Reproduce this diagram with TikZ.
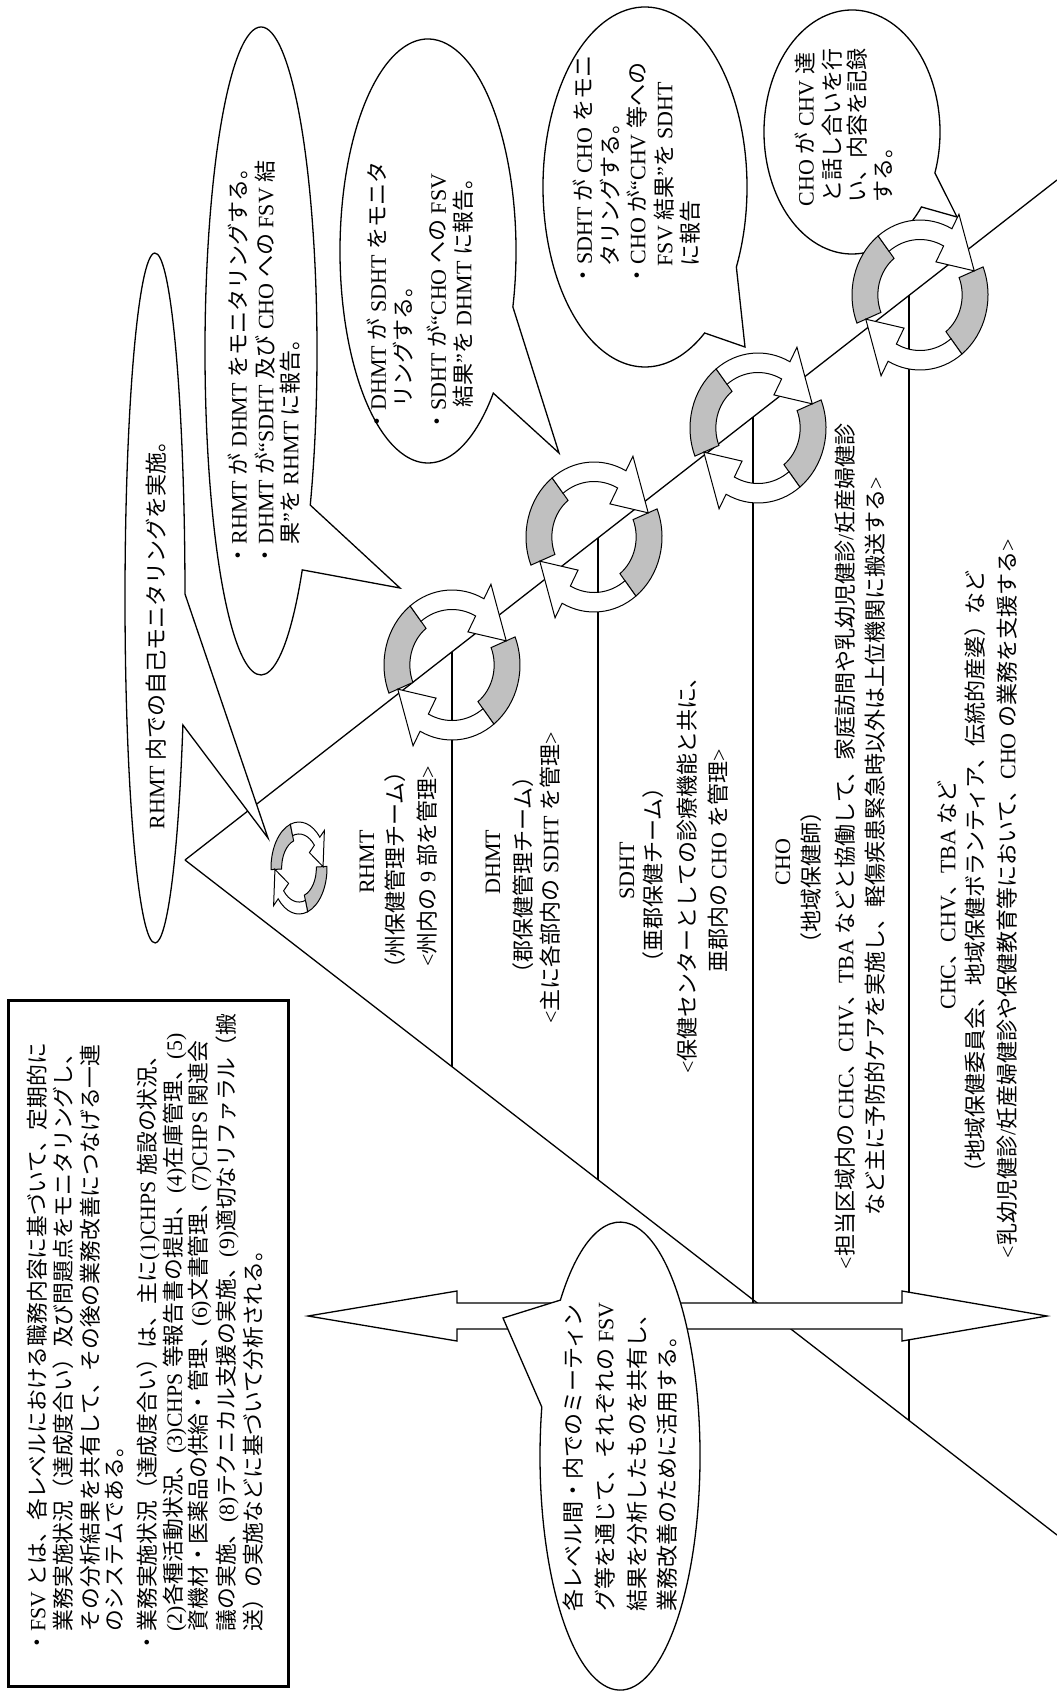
\documentclass[tikz,border=0pt]{standalone}
\usepackage{fontspec}
\setmainfont{Liberation Serif}
\newfontfamily\jfont{Noto Sans CJK JP}
\usetikzlibrary{calc}
\definecolor{cgray}{RGB}{192,192,192}
\XeTeXinterchartokenstate=1
\chardef\jclass=7
\newcount\jcc
\def\setjrange#1#2{\jcc=#1\relax\loop\XeTeXcharclass\jcc=\jclass\relax\ifnum\jcc<#2\relax\advance\jcc by 1\relax\repeat}
\setjrange{"3000}{"30FF}
\setjrange{"4E00}{"9FFF}
\setjrange{"FF00}{"FFEF}
\XeTeXinterchartoks 0 \jclass = {\jfont}
\XeTeXinterchartoks 4095 \jclass = {\jfont}
\XeTeXinterchartoks \jclass 0 = {\rmfamily}
\XeTeXinterchartoks \jclass 4095 = {\rmfamily}
\tikzset{
  txt/.style={rotate=90, inner sep=0pt, font=\fontsize{22}{26}\selectfont},
  ln/.style={txt, anchor=west},
  ctr/.style={txt, anchor=center},
  boxtxt/.style={txt, anchor=west, font=\fontsize{21.8}{26}\selectfont},
  callout/.style={line width=1.3pt, fill=white},
  cyc/.pic={
    \foreach \r in {0,180}{
      \filldraw[rotate=\r, fill=cgray, line width=1pt] (202:1) arc[start angle=202,end angle=128,radius=1] -- (128:0.62) arc[start angle=128,end angle=202,radius=0.62] -- cycle;
    }
    \foreach \r in {0,180}{
      \filldraw[rotate=\r, fill=white, line width=1pt] (128:1) arc[start angle=128,end angle=62,radius=1] -- (62:1.22) -- (22:0.86) -- (62:0.50) -- (62:0.74) arc[start angle=62,end angle=128,radius=0.74] -- cycle;
    }
  }
}
\begin{document}
\begin{tikzpicture}[x=1pt,y=1pt,line width=1.3pt]
\useasboundingbox (0,0) rectangle (1057,-1695);
\fill[white] (0,0) rectangle (1057,-1695);
% triangle
\coordinate (apex) at (185,-860);
\coordinate (ue) at (1057,-180);
\coordinate (le) at (1057,-1535);
\draw (apex) -- (ue);
\draw (apex) -- (le);
% level separators
\coordinate (v1t) at (452,-652); \coordinate (v1b) at (452,-1067);
\coordinate (v2t) at (598,-538); \coordinate (v2b) at (598,-1180);
\coordinate (v3t) at (753,-417); \coordinate (v3b) at (753,-1303);
\coordinate (v4t) at (909,-295); \coordinate (v4b) at (909,-1420);
\draw (v1t) -- (v1b);
\draw (v2t) -- (v2b);
\draw (v3t) -- (v3b);
\draw (v4t) -- (v4b);
% double arrow
\draw[fill=white] (308,-1316) -- (457,-1291) -- (457,-1303) -- (902,-1303) -- (902,-1291) -- (1047,-1316) -- (902,-1341) -- (902,-1329) -- (457,-1329) -- (457,-1341) -- cycle;
% meeting callout
\draw[callout] (541.8,-1407) arc[start angle=167.9,end angle=498.2,x radius=80,y radius=234] -- (503,-1318) -- cycle;
% FSV box
\draw[line width=3pt] (8,-1000) rectangle (288,-1686);
% callouts
\draw[callout] ({155+30*cos(0.66)},{-598+345*sin(0.66)}) arc[start angle=0.66,end angle=338.4,x radius=30,y radius=345] -- (268,-838) -- cycle;
\draw[callout] ({261+56*cos(-28.4)},{-351+324*sin(-28.4)}) arc[start angle=-28.4,end angle=317.5,x radius=56,y radius=324] -- (400,-588) -- cycle;
\draw[callout] ({428+88*cos(-15.3)},{-251+212*sin(-15.3)}) arc[start angle=-15.3,end angle=317.9,x radius=88,y radius=212] -- (559,-453) -- cycle;
\draw[callout] ({645+102*cos(-26.4)},{-187+180*sin(-26.4)}) arc[start angle=-26.4,end angle=305.8,x radius=102,y radius=180] -- (745,-347) -- cycle;
\draw[callout] ({852+88*cos(-19.6)},{-132+122*sin(-19.6)}) arc[start angle=-19.6,end angle=322.1,x radius=88,y radius=122] -- (957,-217) -- cycle;
% cycles
\pic[xscale=28,yscale=46,rotate=-20] at (299,-868) {cyc};
\pic[xscale=68,yscale=75] at (452,-665) {cyc};
\pic[xscale=68,yscale=75] at (594,-537) {cyc};
\pic[xscale=68,yscale=75] at (758,-428) {cyc};
\pic[xscale=68,yscale=75] at (920,-295) {cyc};
% box text
\node[boxtxt] (b1) at (37,-1654) {・FSV とは、各レベルにおける職務内容に基づいて、定期的に};
\node[boxtxt] (b2) at (63,-1632) {業務実施状況（達成度合い）及び問題点をモニタリングし、};
\node[boxtxt] (b3) at (90,-1632) {その分析結果を共有して、その後の業務改善につなげる一連};
\node[boxtxt] (b4) at (115,-1632) {のシステムである。};
\node[boxtxt] (b5) at (148,-1654) {・業務実施状況（達成度合い）は、主に(1)CHPS 施設の状況、};
\node[boxtxt] (b6) at (175,-1632) {(2)各種活動状況、(3)CHPS 等報告書の提出、(4)在庫管理、(5)};
\node[boxtxt] (b7) at (200,-1632) {資機材・医薬品の供給・管理、(6)文書管理、(7)CHPS 関連会};
\node[boxtxt] (b8) at (227,-1632) {議の実施、(8)テクニカル支援の実施、(9)適切なリファラル（搬};
\node[boxtxt] (b9) at (253,-1632) {送）の実施などに基づいて分析される。};
% callout texts
\node[ln] (e1) at (156,-830) {RHMT 内での自己モニタリングを実施。};
\node[ln] (e2a) at (238,-567) {・RHMT が DHMT をモニタリングする。};
\node[ln] (e2b) at (265,-567) {・DHMT が“SDHT 及び CHO への FSV 結};
\node[ln] (e2c) at (290,-545) {果”を RHMT に報告。};
\node[ln] (e3a) at (377,-433) {・DHMT が SDHT をモニタ};
\node[ln] (e3b) at (403,-408) {リングする。};
\node[ln] (e3c) at (437,-433) {・SDHT が“CHO への FSV};
\node[ln] (e3d) at (463,-408) {結果”を DHMT に報告。};
\node[ln] (e4a) at (583,-287) {・SDHT が CHO をモニ};
\node[ln] (e4b) at (610,-267) {タリングする。};
\node[ln] (e4c) at (637,-287) {・CHO が“CHV 等への};
\node[ln] (e4d) at (664,-267) {FSV 結果”を SDHT};
\node[ln] (e4e) at (690,-267) {に報告};
\node[ln] (e5a) at (805,-207) {CHO が CHV 達};
\node[ln] (e5b) at (832,-203) {と話し合いを行};
\node[ln] (e5c) at (857,-203) {い、内容を記録};
\node[ln] (e5d) at (883,-203) {する。};
\node[ln] (m1) at (573,-1612) {各レベル間・内でのミーティン};
\node[ln] (m2) at (605,-1612) {グ等を通じて、それぞれの FSV};
\node[ln] (m3) at (637,-1612) {結果を分析したものを共有し、};
\node[ln] (m4) at (667,-1612) {業務改善のために活用する。};
% level labels
\node[ctr] (r1) at (367,-862) {RHMT};
\node[ctr] (r2) at (395,-870) {（州保健管理チーム）};
\node[ctr] (r3) at (427,-866) {<州内の 9 部を管理>};
\node[ctr] (d1) at (493,-862) {DHMT};
\node[ctr] (d2) at (523,-875) {（郡保健管理チーム）};
\node[ctr] (d3) at (550,-878) {<主に各部内の SDHT を管理>};
\node[ctr] (s1) at (627,-871) {SDHT};
\node[ctr] (s2) at (653,-875) {（亜郡保健チーム）};
\node[ctr] (s3) at (687,-870) {<保健センターとしての診療機能と共に、};
\node[ctr] (s4) at (718,-861) {亜郡内の CHO を管理>};
\node[ctr] (c1) at (783,-862) {CHO};
\node[ctr] (c2) at (811,-877) {（地域保健師）};
\node[ln] (c3) at (845,-1270) {<担当区域内の CHC、CHV、TBA などと協働して、家庭訪問や乳幼児健診/妊産婦健診};
\node[ln] (c4) at (875,-1216) {など主に予防的ケアを実施し、軽傷疾患緊急時以外は上位機関に搬送する>};
\node[ctr] (k1) at (947,-895) {CHC、CHV、TBA など};
\node[ln] (k2) at (975,-1184) {（地域保健委員会、地域保健ボランティア、伝統的産婆）など};
\node[ln] (k3) at (1007,-1259) {<乳幼児健診/妊産婦健診や保健教育等において、CHO の業務を支援する>};
\end{tikzpicture}
\end{document}
